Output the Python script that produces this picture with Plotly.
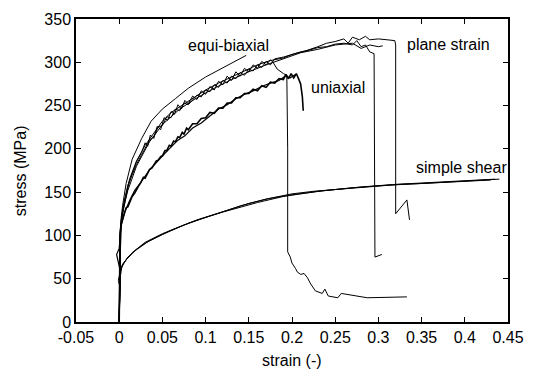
import plotly.graph_objects as go

# ---- data, each curve as (strain, stress) pairs ----
shear_1 = [(0, 0), (0.0005, 30), (0.001, 50), (0.002, 58), (0.003, 63), (0.006, 69), (0.01, 75), (0.02, 84),
           (0.03, 91), (0.05, 101), (0.075, 112), (0.1, 121), (0.125, 129), (0.15, 137), (0.175, 143),
           (0.2, 148), (0.225, 151), (0.25, 153), (0.275, 155), (0.3, 157), (0.325, 159), (0.35, 160),
           (0.375, 161.5), (0.4, 163), (0.42, 164), (0.44, 165)]
shear_2 = [(0, 0), (0.001, 40), (-0.001, 48), (0.001, 58), (0.002, 62), (0.004, 67), (0.008, 72), (0.015, 80),
           (0.03, 92), (0.05, 102), (0.08, 114), (0.11, 124), (0.14, 134), (0.17, 142), (0.2, 147),
           (0.24, 152), (0.28, 156), (0.32, 159), (0.36, 161), (0.4, 163), (0.435, 165)]
shear_3 = [(0, 0), (0.0008, 45), (0.002, 60), (0.004, 66), (0.009, 73), (0.018, 82), (0.035, 94), (0.06, 106),
           (0.09, 118), (0.12, 127), (0.16, 138), (0.19, 145), (0.23, 151), (0.27, 155), (0.31, 158),
           (0.35, 160), (0.39, 162.5), (0.43, 164)]

uni_1 = [(0, 0), (0.0005, 60), (0.001, 100), (0.002, 112), (0.005, 122), (0.008, 132), (0.01, 133),
         (0.013, 141), (0.015, 145), (0.018, 149), (0.02, 153), (0.023, 158), (0.025, 161), (0.028, 167),
         (0.03, 166), (0.033, 173), (0.035, 176), (0.038, 178), (0.04, 181), (0.043, 186), (0.045, 187),
         (0.048, 191), (0.05, 192), (0.053, 198), (0.055, 198), (0.058, 204), (0.06, 203), (0.063, 209),
         (0.065, 208), (0.068, 214), (0.07, 213), (0.073, 219), (0.075, 217), (0.078, 224), (0.08, 222),
         (0.085, 229), (0.09, 229), (0.095, 235), (0.1, 236), (0.105, 242), (0.11, 241), (0.115, 247),
         (0.12, 247), (0.125, 253), (0.13, 253), (0.135, 259), (0.14, 259), (0.145, 264), (0.15, 264),
         (0.155, 269), (0.16, 267), (0.165, 273), (0.17, 271), (0.175, 277), (0.18, 276), (0.185, 281),
         (0.19, 280), (0.193, 286), (0.196, 281), (0.199, 287), (0.202, 282), (0.205, 287), (0.208, 280),
         (0.21, 275), (0.212, 260), (0.213, 244)]
uni_2 = [(0, 0), (0.001, 60), (-0.003, 78), (0.0, 85), (0.002, 110), (0.006, 126), (0.012, 140), (0.018, 152),
         (0.024, 160), (0.03, 168), (0.036, 177), (0.042, 183), (0.048, 190), (0.054, 196), (0.06, 202),
         (0.068, 210), (0.076, 215), (0.085, 224), (0.095, 230), (0.105, 238), (0.115, 246), (0.125, 251),
         (0.135, 258), (0.145, 263), (0.155, 267), (0.165, 272), (0.175, 276), (0.185, 279), (0.192, 284),
         (0.198, 282), (0.204, 286)]

equi_1 = [(0, 0), (0.0005, 50), (0.001, 100), (0.002, 118), (0.004, 135), (0.008, 160), (0.015, 188),
          (0.026, 212), (0.037, 232), (0.05, 246), (0.065, 258), (0.08, 270), (0.1, 283), (0.115, 291),
          (0.128, 298), (0.14, 304), (0.147, 308)]
equi_2 = [(0, 0), (0.001, 90), (0.002, 112), (0.005, 130), (0.01, 155), (0.015, 172), (0.02, 185),
          (0.026, 196), (0.03, 207), (0.033, 203), (0.036, 216), (0.04, 212), (0.044, 226), (0.048, 222),
          (0.052, 236), (0.056, 233), (0.06, 243), (0.064, 240), (0.068, 251), (0.072, 246), (0.076, 256),
          (0.08, 252), (0.085, 261), (0.09, 257), (0.095, 267), (0.1, 263), (0.105, 272), (0.11, 268),
          (0.115, 278), (0.12, 274), (0.125, 284), (0.13, 279), (0.135, 289), (0.14, 284), (0.145, 293),
          (0.15, 289), (0.155, 297), (0.16, 293), (0.165, 301), (0.17, 297), (0.175, 303), (0.178, 300),
          (0.183, 292), (0.19, 287), (0.194, 285), (0.195, 200), (0.195, 81), (0.198, 75), (0.2, 68),
          (0.204, 62), (0.206, 58), (0.21, 55), (0.214, 56), (0.218, 51), (0.221, 45), (0.227, 36),
          (0.235, 33), (0.238, 38), (0.242, 30), (0.253, 28), (0.257, 33), (0.287, 28), (0.333, 29)]

plane_1 = [(0, 0), (0.001, 95), (0.002, 115), (0.005, 135), (0.01, 158), (0.02, 182), (0.03, 200),
           (0.035, 210), (0.04, 214), (0.045, 225), (0.05, 227), (0.055, 237), (0.06, 236), (0.065, 246),
           (0.07, 244), (0.075, 253), (0.08, 251), (0.09, 262), (0.095, 260), (0.1, 268), (0.105, 266),
           (0.11, 274), (0.115, 271), (0.12, 279), (0.125, 276), (0.13, 284), (0.135, 281), (0.14, 288),
           (0.145, 285), (0.15, 292), (0.155, 290), (0.16, 297), (0.165, 294), (0.17, 301), (0.175, 297),
           (0.18, 304), (0.19, 306), (0.2, 309), (0.21, 312), (0.22, 314), (0.23, 317), (0.24, 318),
           (0.25, 321), (0.26, 322), (0.27, 320), (0.275, 325), (0.28, 318), (0.285, 320), (0.29, 312),
           (0.295, 310), (0.296, 75), (0.304, 78)]
plane_2 = [(0, 0), (0.001, 100), (0.003, 120), (0.006, 140), (0.012, 165), (0.02, 186), (0.03, 204),
           (0.04, 218), (0.05, 232), (0.06, 242), (0.075, 252), (0.09, 262), (0.1, 268), (0.115, 276),
           (0.13, 283), (0.145, 290), (0.16, 297), (0.175, 302), (0.19, 305), (0.2, 309), (0.215, 313),
           (0.23, 318), (0.24, 322), (0.25, 324), (0.26, 327), (0.265, 322), (0.27, 329), (0.278, 326),
           (0.285, 330), (0.29, 326), (0.3, 327), (0.31, 326), (0.319, 325), (0.32, 320), (0.32, 125),
           (0.333, 141), (0.336, 118)]
plane_3 = [(0, 0), (0.001, 105), (0.004, 128), (0.01, 152), (0.02, 180), (0.035, 208), (0.05, 228),
           (0.07, 246), (0.09, 259), (0.11, 270), (0.13, 280), (0.15, 289), (0.17, 297), (0.19, 304),
           (0.21, 311), (0.23, 315), (0.25, 320), (0.27, 322), (0.28, 316), (0.29, 320), (0.3, 318),
           (0.305, 319)]

curves = [shear_1, shear_2, shear_3, uni_1, uni_2, equi_1, equi_2, plane_1, plane_2, plane_3]
curve_widths = [1, 1, 1, 1.6, 1.2, 1, 1, 1, 1, 1]

x_ticks = [-0.05, 0, 0.05, 0.1, 0.15, 0.2, 0.25, 0.3, 0.35, 0.4, 0.45]
x_tick_labels = ["-0.05", "0", "0.05", "0.1", "0.15", "0.2", "0.25", "0.3", "0.35", "0.4", "0.45"]
y_ticks = [0, 50, 100, 150, 200, 250, 300, 350]

labels = ["equi-biaxial", "plane strain", "uniaxial", "simple shear"]
label_x = [0.127, 0.331, 0.220, 0.341]
label_y = [319.5, 320.5, 271, 179]
label_anchor = ["center", "left", "left", "left"]

FONT = "Liberation Sans, Arial, Helvetica, sans-serif"
FS = 16

fig = go.Figure()
for pts, w in zip(curves, curve_widths):
    fig.add_trace(go.Scatter(x=[p[0] for p in pts], y=[p[1] for p in pts], mode="lines",
                             line=dict(color="black", width=w), showlegend=False))

for t, lx, ly, a in zip(labels, label_x, label_y, label_anchor):
    fig.add_annotation(x=lx, y=ly, text=t, showarrow=False, xanchor=a, yanchor="middle",
                       font=dict(family=FONT, size=FS, color="black"))

fig.add_annotation(xref="paper", yref="paper", x=0.5, y=-0.092, text="strain (-)",
                   showarrow=False, xanchor="center", yanchor="top",
                   font=dict(family=FONT, size=FS, color="black"))
fig.add_annotation(xref="paper", yref="paper", x=-0.128, y=0.5, text="stress (MPa)",
                   showarrow=False, textangle=-90, xanchor="center", yanchor="middle",
                   font=dict(family=FONT, size=FS, color="black"))

axis_common = dict(showline=True, linecolor="black", linewidth=1.5, mirror="ticks",
                   ticks="inside", ticklen=5, tickcolor="black", tickwidth=1,
                   showgrid=False, zeroline=False,
                   tickfont=dict(family=FONT, size=FS, color="black"))
fig.update_xaxes(range=[-0.05, 0.45], tickvals=x_ticks, ticktext=x_tick_labels, **axis_common)
fig.update_yaxes(range=[0, 350], tickvals=y_ticks, **axis_common)

fig.update_layout(width=535, height=376, margin=dict(l=76, r=18, t=11, b=54),
                  plot_bgcolor="white", paper_bgcolor="white",
                  font=dict(family=FONT, size=FS, color="black"))

fig.write_html("out.html")
